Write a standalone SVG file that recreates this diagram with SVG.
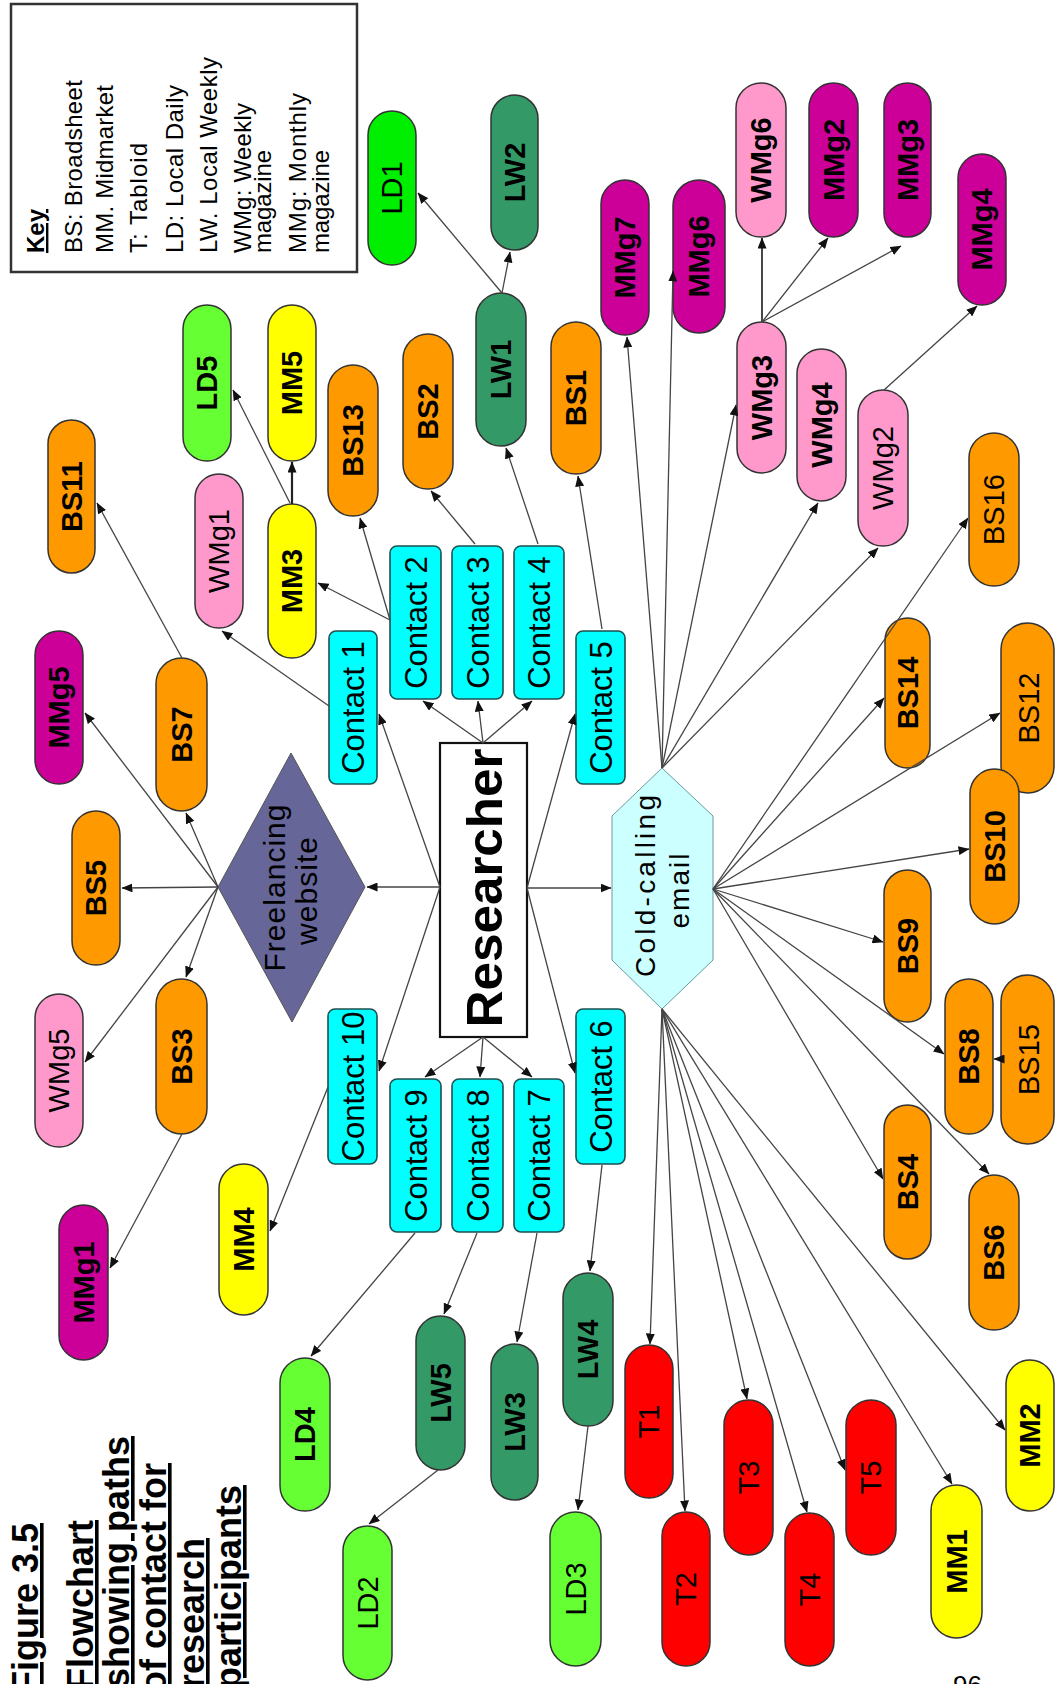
<svg xmlns="http://www.w3.org/2000/svg" width="1064" height="1684" viewBox="0 0 1064 1684">
<style>
text{font-family:"Liberation Sans",Arial,Helvetica,sans-serif;fill:#000}
.pill rect{stroke:#333;stroke-width:1.5}
.pill text{font-size:29px;text-anchor:middle}
.b text{font-weight:bold}
.bs rect{fill:#ff9900}
.mmg rect{fill:#cc0099}
.wmg rect{fill:#ff99cc}
.mm rect{fill:#ffff00}
.ld rect{fill:#66ff33}
.lw rect{fill:#339966}
.t rect{fill:#ff0000}
.contact rect{fill:#00ffff;stroke:#1f4f4f;stroke-width:1.6}
.contact text{font-size:31px;text-anchor:middle}
.key text{font-size:24px}
.cap{font-size:36px;font-weight:bold;text-anchor:end;text-decoration:underline}
#connectors line{stroke:#444;stroke-width:1.3;marker-end:url(#ah)}
</style>
<defs>
<marker id="ah" markerUnits="userSpaceOnUse" markerWidth="11" markerHeight="9" refX="10.5" refY="4.5" orient="auto">
<path d="M0,0 L11,4.5 L0,9 z" fill="#111"/>
</marker>
</defs>
<rect width="1064" height="1684" fill="#fff"/>

<g id="key" class="key">
<rect x="11" y="4" width="346" height="268" fill="#fff" stroke="#333" stroke-width="2.5"/>
<text transform="translate(44,253) rotate(-90)" font-size="28" font-weight="bold" text-decoration="underline">Key</text>
<text transform="translate(82,253) rotate(-90)" textLength="173" lengthAdjust="spacing">BS: Broadsheet</text>
<text transform="translate(113,253) rotate(-90)" textLength="168" lengthAdjust="spacing">MM. Midmarket</text>
<text transform="translate(147,253) rotate(-90)" textLength="110" lengthAdjust="spacing">T: Tabloid</text>
<text transform="translate(183,253) rotate(-90)" textLength="168" lengthAdjust="spacing">LD: Local Daily</text>
<text transform="translate(217,253) rotate(-90)" textLength="196" lengthAdjust="spacing">LW. Local Weekly</text>
<text transform="translate(251,253) rotate(-90)" textLength="150" lengthAdjust="spacing">WMg: Weekly</text>
<text transform="translate(271,253) rotate(-90)" textLength="103" lengthAdjust="spacing">magazine</text>
<text transform="translate(306,253) rotate(-90)" textLength="160" lengthAdjust="spacing">MMg: Monthly</text>
<text transform="translate(329,253) rotate(-90)" textLength="103" lengthAdjust="spacing">magazine</text>
</g>

<g id="caption">
<text class="cap" transform="translate(38,1523) rotate(-90)">Figure 3.5</text>
<text class="cap" transform="translate(93,1520) rotate(-90)">Flowchart</text>
<text class="cap" transform="translate(129,1436) rotate(-90)">showing paths</text>
<text class="cap" transform="translate(166,1463) rotate(-90)">of contact for</text>
<text class="cap" transform="translate(204,1538) rotate(-90)">research</text>
<text class="cap" transform="translate(241,1485) rotate(-90)">participants</text>
</g>
<text id="page-number" x="953" y="1694" font-size="26">96</text>

<g id="n-Researcher">
<rect x="440" y="743" width="87" height="294" fill="#fff" stroke="#111" stroke-width="2.2"/>
<text transform="translate(483.5,888) rotate(-90)" y="18" font-size="50" font-weight="bold" text-anchor="middle" textLength="279" lengthAdjust="spacingAndGlyphs">Researcher</text>
</g>
<g id="n-Freelancing">
<polygon points="218,887 291,753 365,887 292,1022" fill="#666699" stroke="#555" stroke-width="1"/>
<text transform="translate(285,888) rotate(-90)" font-size="30" text-anchor="middle" textLength="167" lengthAdjust="spacing">Freelancing</text>
<text transform="translate(317,891) rotate(-90)" font-size="30" text-anchor="middle" textLength="108" lengthAdjust="spacing">website</text>
</g>
<g id="n-ColdCalling">
<polygon points="662,768 612,816 612,960 662,1009 713,960 713,816" fill="#ccffff" stroke="#6a9a9a" stroke-width="1"/>
<text transform="translate(655,886) rotate(-90)" font-size="28" text-anchor="middle" textLength="182" lengthAdjust="spacing">Cold-calling</text>
<text transform="translate(689,891) rotate(-90)" font-size="28" text-anchor="middle" textLength="75" lengthAdjust="spacing">email</text>
</g>

<g id="n-C1" class="contact"><rect x="329" y="631" width="48" height="153" rx="7"/><text transform="translate(353,707.5) rotate(-90)" y="11">Contact 1</text></g>
<g id="n-C2" class="contact"><rect x="390" y="546" width="51" height="153" rx="7"/><text transform="translate(415.5,622.5) rotate(-90)" y="11">Contact 2</text></g>
<g id="n-C3" class="contact"><rect x="452" y="546" width="51" height="153" rx="7"/><text transform="translate(477.5,622.5) rotate(-90)" y="11">Contact 3</text></g>
<g id="n-C4" class="contact"><rect x="514" y="546" width="50" height="153" rx="7"/><text transform="translate(539,622.5) rotate(-90)" y="11">Contact 4</text></g>
<g id="n-C5" class="contact"><rect x="576" y="631" width="49" height="153" rx="7"/><text transform="translate(600.5,707.5) rotate(-90)" y="11">Contact 5</text></g>
<g id="n-C6" class="contact"><rect x="576" y="1009" width="49" height="155" rx="7"/><text transform="translate(600.5,1086.5) rotate(-90)" y="11">Contact 6</text></g>
<g id="n-C7" class="contact"><rect x="514" y="1079" width="50" height="153" rx="7"/><text transform="translate(539,1155.5) rotate(-90)" y="11">Contact 7</text></g>
<g id="n-C8" class="contact"><rect x="452" y="1079" width="51" height="153" rx="7"/><text transform="translate(477.5,1155.5) rotate(-90)" y="11">Contact 8</text></g>
<g id="n-C9" class="contact"><rect x="390" y="1079" width="51" height="153" rx="7"/><text transform="translate(415.5,1155.5) rotate(-90)" y="11">Contact 9</text></g>
<g id="n-C10" class="contact"><rect x="328" y="1009" width="49" height="155" rx="7"/><text transform="translate(352.5,1086.5) rotate(-90)" y="11">Contact 10</text></g>

<g id="n-LD1" class="pill"><rect x="368" y="111" width="48" height="154" rx="24" fill="#00ee00"/><text transform="translate(392,188) rotate(-90)" y="10.4">LD1</text></g>
<g id="n-LW2" class="pill lw b"><rect x="491" y="95" width="47" height="155" rx="23.5"/><text transform="translate(514.5,172.5) rotate(-90)" y="10.4">LW2</text></g>
<g id="n-LW1" class="pill lw b"><rect x="476" y="293" width="50" height="153" rx="25"/><text transform="translate(501,369.5) rotate(-90)" y="10.4">LW1</text></g>
<g id="n-MMg7" class="pill mmg b"><rect x="601" y="180" width="48" height="155" rx="24"/><text transform="translate(625,257.5) rotate(-90)" y="10.4">MMg7</text></g>
<g id="n-MMg6" class="pill mmg b"><rect x="673" y="180" width="52" height="153" rx="26"/><text transform="translate(699,256.5) rotate(-90)" y="10.4">MMg6</text></g>
<g id="n-BS1" class="pill bs b"><rect x="551" y="322" width="50" height="152" rx="25"/><text transform="translate(576,398) rotate(-90)" y="10.4">BS1</text></g>
<g id="n-BS2" class="pill bs b"><rect x="403" y="334" width="50" height="155" rx="25"/><text transform="translate(428,411.5) rotate(-90)" y="10.4">BS2</text></g>
<g id="n-BS13" class="pill bs b"><rect x="328" y="365" width="50" height="151" rx="25"/><text transform="translate(353,440.5) rotate(-90)" y="10.4">BS13</text></g>
<g id="n-WMg6" class="pill wmg b"><rect x="736" y="83" width="50" height="154" rx="25"/><text transform="translate(761,160) rotate(-90)" y="10.4">WMg6</text></g>
<g id="n-MMg2" class="pill mmg b"><rect x="809" y="83" width="49" height="154" rx="24.5"/><text transform="translate(833.5,160) rotate(-90)" y="10.4">MMg2</text></g>
<g id="n-MMg3" class="pill mmg b"><rect x="884" y="83" width="47" height="154" rx="23.5"/><text transform="translate(907.5,160) rotate(-90)" y="10.4">MMg3</text></g>
<g id="n-MMg4" class="pill mmg b"><rect x="958" y="154" width="48" height="151" rx="24"/><text transform="translate(982,229.5) rotate(-90)" y="10.4">MMg4</text></g>
<g id="n-WMg3" class="pill wmg b"><rect x="737" y="322" width="49" height="151" rx="24.5"/><text transform="translate(761.5,397.5) rotate(-90)" y="10.4">WMg3</text></g>
<g id="n-WMg4" class="pill wmg b"><rect x="797" y="349" width="49" height="152" rx="24.5"/><text transform="translate(821.5,425) rotate(-90)" y="10.4">WMg4</text></g>
<g id="n-WMg2" class="pill wmg"><rect x="858" y="390" width="50" height="156" rx="25"/><text transform="translate(883,468) rotate(-90)" y="10.4">WMg2</text></g>
<g id="n-BS16" class="pill bs"><rect x="969" y="433" width="50" height="153" rx="25"/><text transform="translate(994,509.5) rotate(-90)" y="10.4">BS16</text></g>
<g id="n-BS14" class="pill bs b"><rect x="885" y="618" width="45" height="150" rx="22.5"/><text transform="translate(907.5,693) rotate(-90)" y="10.4">BS14</text></g>
<g id="n-BS12" class="pill bs"><rect x="1001" y="623" width="53" height="170" rx="26.5"/><text transform="translate(1027.5,708) rotate(-90)" y="11" font-size="31">BS12</text></g>
<g id="n-BS10" class="pill bs b"><rect x="970" y="769" width="49" height="155" rx="24.5"/><text transform="translate(994.5,846.5) rotate(-90)" y="10.4">BS10</text></g>
<g id="n-BS9" class="pill bs b"><rect x="884" y="870" width="47" height="152" rx="23.5"/><text transform="translate(907.5,946) rotate(-90)" y="10.4">BS9</text></g>
<g id="n-BS15" class="pill bs"><rect x="1001" y="975" width="53" height="169" rx="26.5"/><text transform="translate(1027.5,1059.5) rotate(-90)" y="11" font-size="31">BS15</text></g>
<g id="n-BS8" class="pill bs b"><rect x="945" y="979" width="48" height="155" rx="24"/><text transform="translate(969,1056.5) rotate(-90)" y="10.4">BS8</text></g>
<g id="n-BS4" class="pill bs b"><rect x="884" y="1105" width="47" height="154" rx="23.5"/><text transform="translate(907.5,1182) rotate(-90)" y="10.4">BS4</text></g>
<g id="n-BS6" class="pill bs b"><rect x="969" y="1175" width="50" height="155" rx="25"/><text transform="translate(994,1252.5) rotate(-90)" y="10.4">BS6</text></g>
<g id="n-MM2" class="pill mm b"><rect x="1006" y="1360" width="48" height="151" rx="24"/><text transform="translate(1030,1435.5) rotate(-90)" y="10.4">MM2</text></g>
<g id="n-T3" class="pill t"><rect x="724" y="1400" width="49" height="155" rx="24.5"/><text transform="translate(748.5,1477.5) rotate(-90)" y="10.4">T3</text></g>
<g id="n-T5" class="pill t"><rect x="846" y="1400" width="50" height="155" rx="25"/><text transform="translate(871,1477.5) rotate(-90)" y="10.4">T5</text></g>
<g id="n-T4" class="pill t"><rect x="785" y="1513" width="49" height="153" rx="24.5"/><text transform="translate(809.5,1589.5) rotate(-90)" y="10.4">T4</text></g>
<g id="n-MM1" class="pill mm b"><rect x="931" y="1485" width="51" height="153" rx="25.5"/><text transform="translate(956.5,1561.5) rotate(-90)" y="10.4">MM1</text></g>
<g id="n-LW5" class="pill lw b"><rect x="416" y="1316" width="49" height="154" rx="24.5"/><text transform="translate(440.5,1393) rotate(-90)" y="10.4">LW5</text></g>
<g id="n-LW3" class="pill lw b"><rect x="491" y="1344" width="47" height="156" rx="23.5"/><text transform="translate(514.5,1422) rotate(-90)" y="10.4">LW3</text></g>
<g id="n-LW4" class="pill lw b"><rect x="563" y="1273" width="50" height="153" rx="25"/><text transform="translate(588,1349.5) rotate(-90)" y="10.4">LW4</text></g>
<g id="n-T1" class="pill t"><rect x="625" y="1345" width="48" height="153" rx="24"/><text transform="translate(649,1421.5) rotate(-90)" y="10.4">T1</text></g>
<g id="n-LD2" class="pill ld"><rect x="343" y="1526" width="49" height="154" rx="24.5"/><text transform="translate(367.5,1603) rotate(-90)" y="10.4">LD2</text></g>
<g id="n-LD3" class="pill ld"><rect x="550" y="1512" width="51" height="154" rx="25.5"/><text transform="translate(575.5,1589) rotate(-90)" y="10.4">LD3</text></g>
<g id="n-T2" class="pill t"><rect x="662" y="1512" width="48" height="154" rx="24"/><text transform="translate(686,1589) rotate(-90)" y="10.4">T2</text></g>
<g id="n-MMg1" class="pill mmg b"><rect x="59" y="1205" width="49" height="155" rx="24.5"/><text transform="translate(83.5,1282.5) rotate(-90)" y="10.4">MMg1</text></g>
<g id="n-MM4" class="pill mm b"><rect x="219" y="1164" width="49" height="151" rx="24.5"/><text transform="translate(243.5,1239.5) rotate(-90)" y="10.4">MM4</text></g>
<g id="n-LD4" class="pill ld b"><rect x="280" y="1358" width="50" height="153" rx="25"/><text transform="translate(305,1434.5) rotate(-90)" y="10.4">LD4</text></g>
<g id="n-BS5" class="pill bs b"><rect x="72" y="811" width="48" height="154" rx="24"/><text transform="translate(96,888) rotate(-90)" y="10.4">BS5</text></g>
<g id="n-WMg5" class="pill wmg"><rect x="35" y="994" width="48" height="153" rx="24"/><text transform="translate(59,1070.5) rotate(-90)" y="10.4">WMg5</text></g>
<g id="n-BS3" class="pill bs b"><rect x="156" y="979" width="51" height="155" rx="25.5"/><text transform="translate(181.5,1056.5) rotate(-90)" y="10.4">BS3</text></g>
<g id="n-BS11" class="pill bs b"><rect x="48" y="420" width="47" height="153" rx="23.5"/><text transform="translate(71.5,496.5) rotate(-90)" y="10.4">BS11</text></g>
<g id="n-MMg5" class="pill mmg b"><rect x="35" y="631" width="48" height="153" rx="24"/><text transform="translate(59,707.5) rotate(-90)" y="10.4">MMg5</text></g>
<g id="n-BS7" class="pill bs b"><rect x="156" y="658" width="51" height="153" rx="25.5"/><text transform="translate(181.5,734.5) rotate(-90)" y="10.4">BS7</text></g>
<g id="n-WMg1" class="pill wmg"><rect x="195" y="474" width="48" height="154" rx="24"/><text transform="translate(219,551) rotate(-90)" y="10.4">WMg1</text></g>
<g id="n-MM3" class="pill mm b"><rect x="268" y="504" width="48" height="154" rx="24"/><text transform="translate(292,581) rotate(-90)" y="10.4">MM3</text></g>
<g id="n-LD5" class="pill ld b"><rect x="183" y="305" width="48" height="156" rx="24"/><text transform="translate(207,383) rotate(-90)" y="10.4">LD5</text></g>
<g id="n-MM5" class="pill mm b"><rect x="268" y="305" width="48" height="156" rx="24"/><text transform="translate(292,383) rotate(-90)" y="10.4">MM5</text></g>

<g id="connectors">
<line x1="483" y1="743" x2="423" y2="701"/>
<line x1="483" y1="743" x2="478" y2="701"/>
<line x1="483" y1="743" x2="532" y2="701"/>
<line x1="483" y1="1037" x2="425" y2="1077"/>
<line x1="483" y1="1037" x2="480" y2="1077"/>
<line x1="483" y1="1037" x2="532" y2="1077"/>
<line x1="440" y1="887" x2="367" y2="887"/>
<line x1="440" y1="887" x2="379" y2="714"/>
<line x1="440" y1="887" x2="379" y2="1071"/>
<line x1="527" y1="888" x2="611" y2="888"/>
<line x1="527" y1="888" x2="575" y2="714"/>
<line x1="527" y1="888" x2="575" y2="1073"/>
<line x1="329" y1="706" x2="222" y2="631"/>
<line x1="390" y1="620" x2="318" y2="583"/>
<line x1="390" y1="620" x2="360" y2="518"/>
<line x1="475" y1="544" x2="431" y2="491"/>
<line x1="538" y1="544" x2="506" y2="448"/>
<line x1="602" y1="629" x2="578" y2="476"/>
<line x1="602" y1="1165" x2="590" y2="1271"/>
<line x1="537" y1="1233" x2="517" y2="1342"/>
<line x1="477" y1="1233" x2="444" y2="1314"/>
<line x1="415" y1="1233" x2="311" y2="1356"/>
<line x1="328" y1="1087" x2="270" y2="1231"/>
<line x1="502" y1="293" x2="418" y2="193"/>
<line x1="502" y1="293" x2="510" y2="252"/>
<line x1="292" y1="504" x2="292" y2="462" style="stroke:#222;stroke-width:2.2"/>
<line x1="290" y1="503" x2="233" y2="390"/>
<line x1="182" y1="658" x2="97" y2="503"/>
<line x1="218" y1="887" x2="85" y2="713"/>
<line x1="218" y1="887" x2="186" y2="813"/>
<line x1="218" y1="887" x2="122" y2="888"/>
<line x1="218" y1="887" x2="85" y2="1062"/>
<line x1="218" y1="887" x2="186" y2="977"/>
<line x1="182" y1="1134" x2="110" y2="1268"/>
<line x1="438" y1="1470" x2="369" y2="1524"/>
<line x1="588" y1="1426" x2="578" y2="1510"/>
<line x1="1001" y1="1059" x2="994" y2="1059"/>
<line x1="762" y1="322" x2="762" y2="238" style="stroke:#333;stroke-width:1.8"/>
<line x1="762" y1="322" x2="828" y2="238"/>
<line x1="762" y1="322" x2="901" y2="246"/>
<line x1="884" y1="390" x2="977" y2="306"/>
<line x1="662" y1="768" x2="627" y2="337"/>
<line x1="662" y1="768" x2="673" y2="271"/>
<line x1="662" y1="768" x2="736" y2="405"/>
<line x1="662" y1="768" x2="818" y2="503"/>
<line x1="662" y1="768" x2="878" y2="548"/>
<line x1="713" y1="889" x2="968" y2="518"/>
<line x1="713" y1="889" x2="884" y2="698"/>
<line x1="713" y1="889" x2="1000" y2="713"/>
<line x1="713" y1="889" x2="969" y2="849"/>
<line x1="713" y1="889" x2="883" y2="942"/>
<line x1="713" y1="889" x2="944" y2="1054"/>
<line x1="713" y1="889" x2="883" y2="1179"/>
<line x1="713" y1="889" x2="989" y2="1174"/>
<line x1="662" y1="1009" x2="650" y2="1344"/>
<line x1="662" y1="1009" x2="685" y2="1511"/>
<line x1="662" y1="1009" x2="747" y2="1399"/>
<line x1="662" y1="1009" x2="807" y2="1512"/>
<line x1="662" y1="1009" x2="845" y2="1470"/>
<line x1="662" y1="1009" x2="952" y2="1484"/>
<line x1="662" y1="1009" x2="1005" y2="1430"/>
</g>
</svg>
